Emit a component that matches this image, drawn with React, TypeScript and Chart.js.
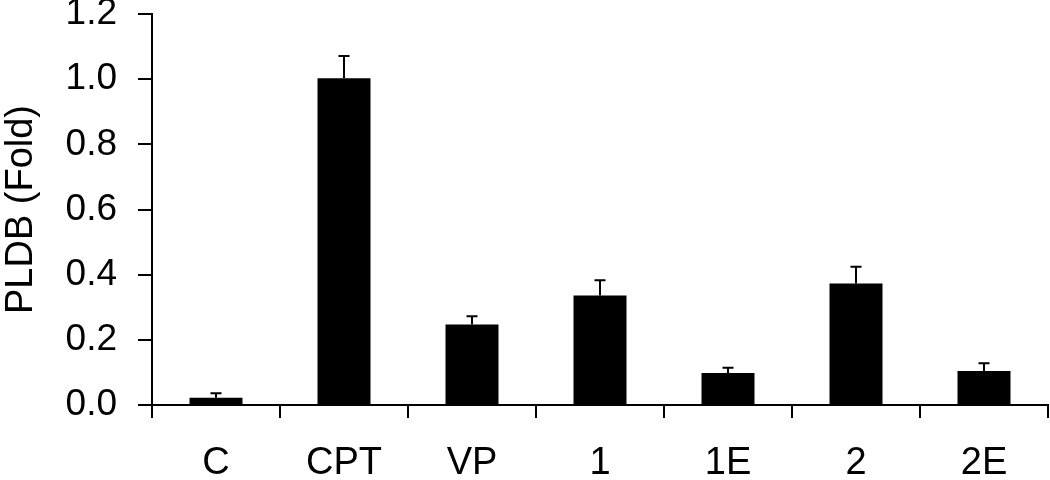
import React, { useEffect, useRef } from "react";
import { Chart, registerables } from "chart.js";

Chart.register(...registerables);

const categories = ["C", "CPT", "VP", "1", "1E", "2", "2E"];
const values = [0.022, 1.003, 0.247, 0.336, 0.098, 0.373, 0.104];
const errors = [0.014, 0.068, 0.025, 0.047, 0.016, 0.051, 0.024];
const yTicks = [0, 0.2, 0.4, 0.6, 0.8, 1.0, 1.2];
const yTitle = "PLDB (Fold)";

const FONT = "'Liberation Sans', Arial, Helvetica, sans-serif";

const errorBarPlugin = {
  id: "errorBars",
  afterDatasetsDraw(chart: any) {
    const meta = chart.getDatasetMeta(0);
    const yScale = chart.scales.y;
    const ctx = chart.ctx;
    ctx.save();
    ctx.strokeStyle = "#000";
    ctx.lineWidth = 2;
    meta.data.forEach((bar: any, i: number) => {
      const top = yScale.getPixelForValue(values[i] + errors[i]);
      const base = bar.y;
      ctx.beginPath();
      ctx.moveTo(bar.x, base);
      ctx.lineTo(bar.x, top);
      ctx.moveTo(bar.x - 5.5, top);
      ctx.lineTo(bar.x + 5.5, top);
      ctx.stroke();
    });
    ctx.restore();
  },
};

export default function App() {
  const ref = useRef<HTMLCanvasElement | null>(null);

  useEffect(() => {
    if (!ref.current) return;
    const chart = new Chart(ref.current, {
      type: "bar",
      data: {
        labels: categories,
        datasets: [
          {
            data: values,
            backgroundColor: "#000",
            borderWidth: 0,
            barPercentage: 0.414,
            categoryPercentage: 1,
          },
        ],
      },
      options: {
        animation: false,
        responsive: true,
        maintainAspectRatio: false,
        layout: { padding: { top: 14, right: 2, bottom: 0, left: 0 } },
        plugins: {
          legend: { display: false },
          tooltip: { enabled: false },
        },
        scales: {
          x: {
            offset: true,
            grid: {
              offset: true,
              drawOnChartArea: false,
              drawTicks: true,
              tickLength: 13,
              color: "#000",
              lineWidth: 2,
            },
            border: { display: true, color: "#000", width: 2 },
            ticks: {
              color: "#000",
              font: { family: FONT, size: 38 },
              padding: 23,
              maxRotation: 0,
              autoSkip: false,
            },
            afterFit(scale: any) {
              scale.height = 75;
              scale.paddingLeft = 0;
              scale.paddingRight = 0;
            },
          },
          y: {
            min: 0,
            max: 1.2,
            afterBuildTicks(scale: any) {
              scale.ticks = yTicks.map((v) => ({ value: v }));
            },
            grid: {
              drawOnChartArea: false,
              drawTicks: true,
              tickLength: 14,
              color: "#000",
              lineWidth: 2,
            },
            border: { display: true, color: "#000", width: 2 },
            ticks: {
              color: "#000",
              font: { family: FONT, size: 37 },
              padding: 21,
              callback: (v: any) => Number(v).toFixed(1),
            },
            title: {
              display: true,
              text: yTitle,
              color: "#000",
              font: { family: FONT, size: 38, lineHeight: 1.13 },
              padding: 0,
            },
            afterFit(scale: any) {
              scale.width = 152;
              scale.paddingTop = 0;
              scale.paddingBottom = 0;
            },
          },
        },
      },
      plugins: [errorBarPlugin],
    });
    return () => chart.destroy();
  }, []);

  return (
    <div style={{ position: "absolute", left: 0, top: 0, width: 1050, height: 480, background: "#fff" }}>
      <canvas ref={ref} />
    </div>
  );
}
